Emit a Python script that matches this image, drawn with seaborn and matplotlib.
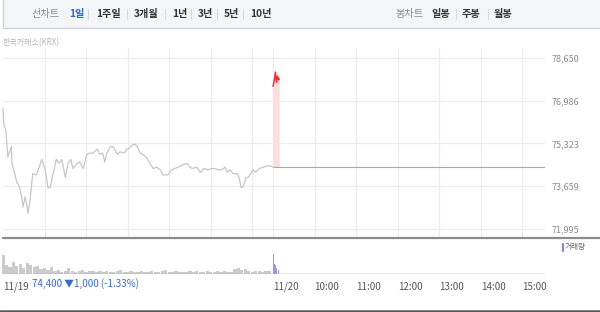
import matplotlib
matplotlib.use("Agg")
import matplotlib.pyplot as plt
import seaborn as sns
from matplotlib.patches import Rectangle
from matplotlib.lines import Line2D

# ---------------- data ----------------
prev_minutes = [0, 1, 4, 7, 12, 13, 17, 20, 23, 27,
                29, 32, 35, 36, 39, 42, 43, 48, 51, 56,
                61, 65, 68, 72, 77, 81, 85, 90, 94, 98,
                101, 107, 111, 116, 121, 126, 130, 136, 140, 144,
                147, 150, 155, 159, 165, 169, 175, 179, 183, 186,
                191, 194, 198, 202, 208, 212, 217, 222, 227, 231,
                238, 244, 248, 253, 260, 266, 270, 274, 280, 285,
                290, 296, 302, 306, 311, 316, 321, 324, 328, 332,
                338, 341, 344, 347, 351, 354, 358, 361, 365, 370,
                376, 381, 387, 390]
prev_prices = [76700, 76100, 75850, 74800, 75200, 74550, 74150, 73800, 73700, 73250,
               72850, 73250, 72850, 72600, 73100, 73900, 74150, 74100, 74300, 74700,
               74300, 73600, 73600, 74100, 74700, 74550, 74700, 74000, 74550, 74700,
               74350, 74550, 74600, 74350, 74900, 74950, 74950, 75100, 74900, 74950,
               74600, 74950, 75200, 75200, 74900, 75000, 74950, 75100, 75150, 75250,
               75300, 75200, 74950, 74900, 74750, 74550, 74350, 74400, 74300, 74100,
               74100, 74300, 74350, 74400, 74500, 74550, 74400, 74350, 74400, 74200,
               74350, 74300, 74350, 74350, 74300, 74300, 74400, 74200, 74300, 74150,
               74150, 74000, 73600, 73650, 74000, 74000, 74150, 74300, 74200, 74350,
               74400, 74450, 74450, 74400]
today_minutes = [390, 392, 393.5, 395, 396.5, 398, 399]
today_prices = [77550, 77800, 78100, 77700, 77950, 77800, 77850]
prev_close = 74400
session_end = 780

prev_vol_minutes = list(range(0, 390, 5))
prev_volumes = [1900,
                900, 700, 1200,
                800, 1000, 600, 1100, 900, 700, 800,
                500, 600, 400, 700,
                300, 400, 250, 350, 600, 300, 250, 300, 400, 250, 300, 350, 250, 300,
                200, 300, 250, 200, 300, 450, 250, 200, 300, 250, 200, 350, 250, 200,
                300, 250, 200, 300, 400, 250, 200, 300, 250, 200, 250, 350, 200, 300,
                250, 200, 300, 250, 200, 300, 250, 300, 200, 250,
                500, 650, 400, 550,
                300, 250, 350, 300, 250, 300, 350]
today_vol_minutes = [390, 391, 392, 393, 394, 395, 396, 397, 398]
today_volumes = [3100, 2000, 1000, 800, 900, 600, 700, 500, 400]

y_ticks = [71995, 73659, 75323, 76986, 78650]
y_tick_labels = ["71,995", "73,659", "75,323", "76,986", "78,650"]
grid_minutes = [60, 120, 180, 240, 300, 360, 390, 450, 510, 570, 630, 690, 750]
x_tick_minutes = [0, 390, 450, 510, 570, 630, 690, 750]
x_tick_labels = ["11/19", "11/20", "10:00", "11:00", "12:00", "13:00", "14:00", "15:00"]

period_items = ["1일", "1주일", "3개월", "1년", "3년", "5년", "10년"]
period_x = [69, 96, 134, 172, 198, 224, 250]
candle_items = ["일봉", "주봉", "월봉"]
candle_x = [431, 462, 494]

# ---------------- style ----------------
sns.set_theme(style="white")
plt.rcParams["font.family"] = ["Noto Sans CJK KR", "DejaVu Sans"]

W, H = 600, 312
fig = plt.figure(figsize=(W / 100, H / 100), dpi=100)
fig.patch.set_facecolor("white")

def fx(px):
    return px / W

def fy(py):
    return 1 - py / H

def T(x, y, s, **kw):
    kw.setdefault("va", "center")
    kw.setdefault("ha", "left")
    return fig.text(fx(x), fy(y), s, **kw)

x_lo, x_hi = -1.0 / 0.6923, (545 - 3) / 0.6923

# ---------------- main price axes ----------------
ax = fig.add_axes([fx(2), fy(237), fx(545) - fx(2), fy(48) - fy(237)])
ax.set_facecolor("white")
sns.lineplot(x=prev_minutes, y=prev_prices, ax=ax, color="#c6c6c6", lw=0.9,
             estimator=None, sort=False)
ax.hlines(prev_close, today_minutes[0], x_hi, color="#a8a8a8", lw=0.8, zorder=2)
ax.fill_between(today_minutes, today_prices, prev_close, color="#fcdede", lw=0, zorder=1)
sns.lineplot(x=today_minutes, y=today_prices, ax=ax, color="#e8333b", lw=1.1,
             estimator=None, sort=False)
ax.set_xlim(x_lo, x_hi)
ax.set_ylim(78650 - (237 - 58) * 38.92, 78650 + 10 * 38.92)
ax.set_xticks(grid_minutes)
ax.set_xticklabels([])
ax.yaxis.tick_right()
ax.set_yticks(y_ticks)
ax.set_yticklabels(y_tick_labels)
ax.tick_params(axis="y", length=0, pad=4.5, labelsize=6.5, labelcolor="#8a8a8a")
ax.tick_params(axis="x", length=0)
ax.grid(True, color="#ececec", lw=0.8)
ax.set_axisbelow(True)
for sp in ax.spines.values():
    sp.set_visible(False)
ax.set_xlabel("")
ax.set_ylabel("")

# ---------------- volume axes ----------------
av = fig.add_axes([fx(2), fy(274), fx(545) - fx(2), fy(238) - fy(274)])
av.set_facecolor("none")
av.bar(prev_vol_minutes, prev_volumes, width=4.7, color="#cbcbcb", lw=0)
av.bar(today_vol_minutes, today_volumes, width=0.95, color="#a596dc", lw=0)
av.bar(today_vol_minutes[:1], today_volumes[:1], width=0.95, color="#7d6cc8", lw=0)
av.axhline(0, color="#a0a0a0", lw=1.0)
av.set_xlim(x_lo, x_hi)
av.set_ylim(0, 3600)
av.set_yticks([])
av.set_xticks(x_tick_minutes)
av.set_xticklabels(x_tick_labels)
plt.setp(av.get_xticklabels(), ha="left")
av.tick_params(axis="x", length=3, width=0.8, color="#999999", pad=2.5,
               labelsize=7, labelcolor="#555555", direction="out")
for sp in av.spines.values():
    sp.set_visible(False)

# ---------------- frame lines ----------------
fig.add_artist(Line2D([fx(3), fx(600)], [fy(237.5), fy(237.5)], color="#8c8c8c", lw=1.6))
fig.add_artist(Line2D([fx(0), fx(600)], [fy(310.5), fy(310.5)], color="#5a5a5a", lw=1.8))

# ---------------- top bar ----------------
fig.add_artist(Rectangle((fx(3), fy(27.5)), 1 - fx(3) + 0.01, 27.5 / H + 0.02,
                         transform=fig.transFigure, facecolor="#f4f5f7",
                         edgecolor="#cfd3d8", lw=1.0))
T(31, 14, "선차트", fontsize=7.3, color="#8a8a8a")
for i, (lab, xp) in enumerate(zip(period_items, period_x)):
    T(xp, 14, lab, fontsize=7.3, fontweight="bold",
      color="#2f63c4" if i == 0 else "#333333")
for sx in [88, 127, 165, 191, 217, 243]:
    fig.add_artist(Line2D([fx(sx), fx(sx)], [fy(9), fy(19)], color="#dadada", lw=0.8))
T(395, 14, "봉차트", fontsize=7.3, color="#8a8a8a")
for lab, xp in zip(candle_items, candle_x):
    T(xp, 14, lab, fontsize=7.3, fontweight="bold", color="#333333")
for sx in [456, 488]:
    fig.add_artist(Line2D([fx(sx), fx(sx)], [fy(9), fy(19)], color="#dadada", lw=0.8))

T(3, 43, "한국거래소(KRX)", fontsize=5.8, color="#b5b5b5")

# volume legend
fig.add_artist(Line2D([fx(562.5), fx(562.5)], [fy(243.5), fy(250.5)], color="#8f80d0", lw=1.6))
T(565, 247, "거래량", fontsize=5.5, color="#666666")

# summary text
T(32, 284, "74,400 ▼1,000 (-1.33%)", fontsize=7, color="#3a6cc8")

fig.savefig("out.png", dpi=100, facecolor="white")
